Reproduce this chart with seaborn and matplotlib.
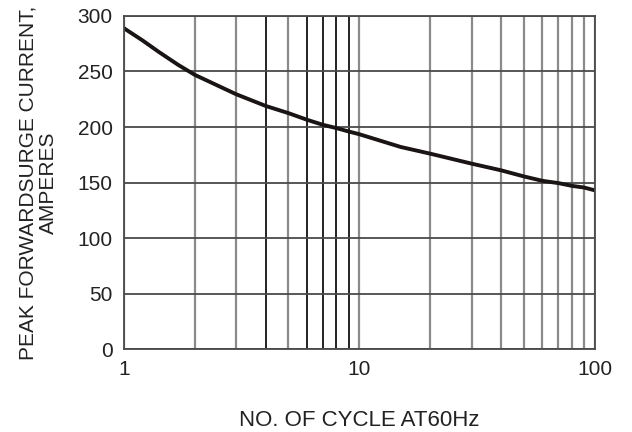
import matplotlib
matplotlib.use("Agg")
import matplotlib.pyplot as plt
import seaborn as sns
import pandas as pd
from matplotlib.ticker import FixedLocator, NullFormatter, FixedFormatter

cycles = [1, 1.2, 1.41, 1.7, 2, 3, 4, 5, 6, 7, 8, 9, 10, 15, 20, 30, 40, 50, 60, 70, 80, 90, 100]
current = [289, 278, 267.5, 256, 247, 229.5, 219, 212.5, 206.5, 202, 199, 196, 193.5, 182, 176,
           167, 161, 155.5, 151.5, 149.5, 147, 145.5, 143]
y_ticks = [0, 50, 100, 150, 200, 250, 300]
x_ticks = [1, 10, 100]
x_minor = [2, 3, 4, 5, 6, 7, 8, 9, 20, 30, 40, 50, 60, 70, 80, 90]
dark_minor = [4, 6, 7, 8, 9]

df = pd.DataFrame({"cycles": cycles, "current": current})

sns.set_theme(style="white")
plt.rcParams["font.family"] = ["Liberation Sans", "DejaVu Sans"]

fig = plt.figure(figsize=(6.32, 4.32), dpi=100)
ax = fig.add_axes([0.196, 0.192, 0.745, 0.771])
ax.set_xscale("log")
sns.lineplot(data=df, x="cycles", y="current", ax=ax, color="#1a1414", linewidth=2.8)

ax.set_xlim(1, 100)
ax.set_ylim(0, 300)
ax.xaxis.set_major_locator(FixedLocator(x_ticks))
ax.xaxis.set_major_formatter(FixedFormatter([str(t) for t in x_ticks]))
ax.xaxis.set_minor_locator(FixedLocator(x_minor))
ax.xaxis.set_minor_formatter(NullFormatter())
ax.set_yticks(y_ticks)

ax.grid(True, which="both", axis="x", color="#8a8a8a", linewidth=1.6)
ax.grid(True, which="major", axis="y", color="#4a4a4a", linewidth=1.3)
for val, tick in zip(x_minor, ax.xaxis.get_minor_ticks()):
    if val in dark_minor:
        tick.gridline.set_color("#111111")
        tick.gridline.set_linewidth(1.3)
for s in ax.spines.values():
    s.set_color("#4a4a4a")
    s.set_linewidth(1.3)
ax.set_axisbelow(True)
ax.tick_params(axis="both", which="both", length=0, labelsize=15, colors="#222222", pad=8)

ax.set_xlabel("NO. OF CYCLE AT60Hz", fontsize=16, color="#222222", labelpad=22)
ax.set_ylabel("PEAK FORWARDSURGE CURRENT,\nAMPERES", fontsize=15, color="#222222",
              labelpad=14, linespacing=1.1)

fig.savefig("out.png", dpi=100)
